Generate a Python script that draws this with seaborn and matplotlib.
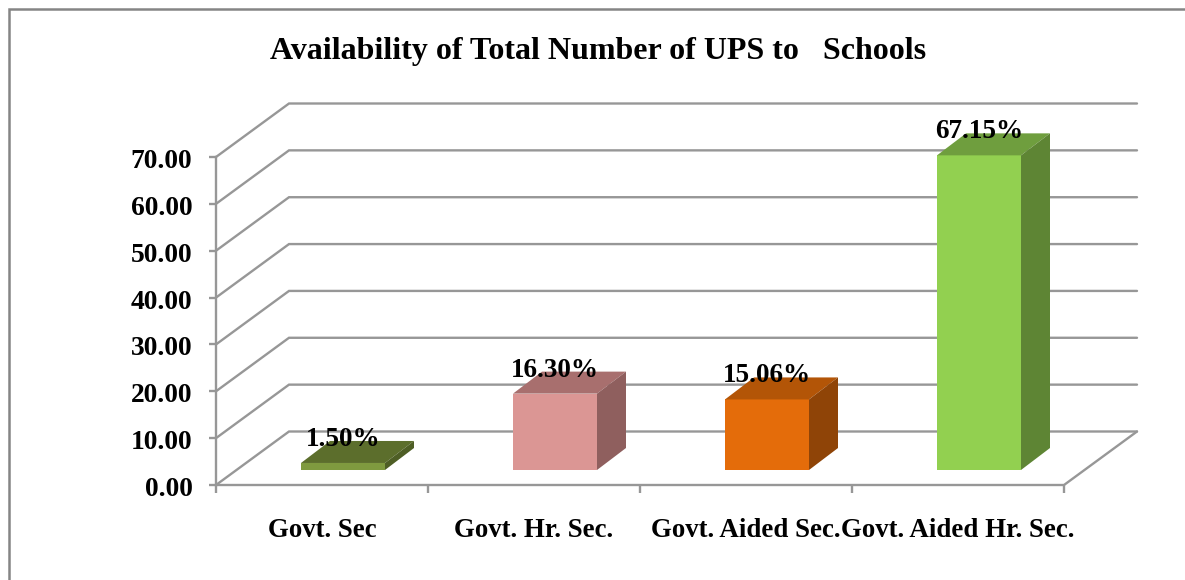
import matplotlib
matplotlib.use("Agg")
import matplotlib.pyplot as plt
from matplotlib.patches import Polygon
from matplotlib.lines import Line2D
from matplotlib.transforms import Affine2D
import seaborn as sns
import pandas as pd

categories = ["Govt. Sec", "Govt. Hr. Sec.", "Govt. Aided Sec.", "Govt. Aided Hr. Sec."]
values = [1.50, 16.30, 15.06, 67.15]
labels = ["1.50%", "16.30%", "15.06%", "67.15%"]
y_ticks = [0, 10, 20, 30, 40, 50, 60, 70]

front_colors = ["#7F9A3F", "#DB9694", "#E46C0A", "#92D050"]
top_colors = ["#5C6E2C", "#A86F6E", "#B35507", "#6F9E3E"]
side_colors = ["#4E5E25", "#8F5F5E", "#8F4407", "#5E8534"]
grid_col = "#979797"

W, H = 1185, 580
sns.set_theme(style="white")
plt.rcParams["font.family"] = ["Liberation Serif", "DejaVu Serif"]
plt.rcParams["font.weight"] = "bold"

fig = plt.figure(figsize=(W / 100, H / 100), dpi=100)
# axes = the front plane of the fake 3d box
ax = fig.add_axes([216 / W, 1 - 485 / H, (1064 - 216) / W, (485 - 157) / H])

df = pd.DataFrame({"cat": categories, "val": values})
sns.barplot(data=df, x="cat", y="val", hue="cat", palette=front_colors, dodge=False,
            legend=False, width=84 / 212, saturation=1, linewidth=0, ax=ax, zorder=3)
ax.set_xlim(-0.5, 3.5)
ax.set_ylim(0, 70)

# pixel sizes -> data units
ux = 212.0
uy = 328.0 / 70
wall_dx, wall_dy = 73 / ux, 53.5 / uy
bar_off_x, bar_off_y = 21 / ux, 15 / uy
dep_x, dep_y = 29 / ux, 22 / uy

# back wall and floor
gk = dict(color=grid_col, lw=1.7, clip_on=False, zorder=1, solid_joinstyle="miter")
for v in y_ticks:
    ax.plot([-0.5, -0.5 + wall_dx, 3.5 + wall_dx], [v, v + wall_dy, v + wall_dy], **gk)
ax.plot([-0.5, 3.5, 3.5 + wall_dx], [0, 0, wall_dy], **gk)

# bars: slide front faces back and add top and side
for i, bar in enumerate(ax.patches):
    bar.set_x(bar.get_x() + bar_off_x)
    bar.set_y(bar_off_y)
    x0 = bar.get_x()
    x1 = x0 + bar.get_width()
    y0 = bar_off_y
    y1 = y0 + values[i]
    ax.add_patch(Polygon([(x0, y1), (x1, y1), (x1 + dep_x, y1 + dep_y), (x0 + dep_x, y1 + dep_y)],
                         closed=True, fc=top_colors[i], ec="none", clip_on=False, zorder=3))
    ax.add_patch(Polygon([(x1, y0), (x1 + dep_x, y0 + dep_y), (x1 + dep_x, y1 + dep_y), (x1, y1)],
                         closed=True, fc=side_colors[i], ec="none", clip_on=False, zorder=3))
    bar.set_clip_on(False)
    ax.annotate(labels[i], (x0 + bar.get_width() / 2, y1), xytext=(0, 17), textcoords="offset points",
                ha="center", va="center", fontsize=19.5, fontweight="bold", color="black", zorder=5,
                annotation_clip=False)

for s in ["top", "right", "bottom"]:
    ax.spines[s].set_visible(False)
ax.spines["left"].set_color(grid_col)
ax.spines["left"].set_linewidth(1.7)
ax.spines["left"].set_zorder(2)

ax.set_xlabel("")
ax.set_ylabel("")
ax.set_yticks(y_ticks)
ax.set_yticklabels(["%.2f" % v for v in y_ticks], fontsize=19.8, fontweight="bold", color="black")
ax.tick_params(axis="y", left=True, length=5, width=1.7, color=grid_col, pad=12)
for lab in ax.get_yticklabels():
    lab.set_transform(lab.get_transform() + Affine2D().translate(0, -1.5))
ax.set_xticks(range(4))
ax.set_xticklabels(categories, fontsize=19.4, fontweight="bold", color="black")
ax.set_xticks([-0.5, 0.5, 1.5, 2.5, 3.5], minor=True)
ax.tick_params(axis="x", which="major", bottom=False, length=0, pad=24)
ax.tick_params(axis="x", which="minor", bottom=True, length=6, width=1.7, color=grid_col)

fig.text(598.5 / W, 1 - 51 / H, "Availability of Total Number of UPS to   Schools",
         ha="center", va="center", fontsize=23, fontweight="bold", color="black")

# outer chart border, left and top only reach the image edge
fig.add_artist(Line2D([9 / W, 9 / W, 1], [0, 1 - 9 / H, 1 - 9 / H],
                      color="#858585", lw=1.8, solid_joinstyle="miter"))

fig.savefig("out.png", dpi=100, facecolor="white")
